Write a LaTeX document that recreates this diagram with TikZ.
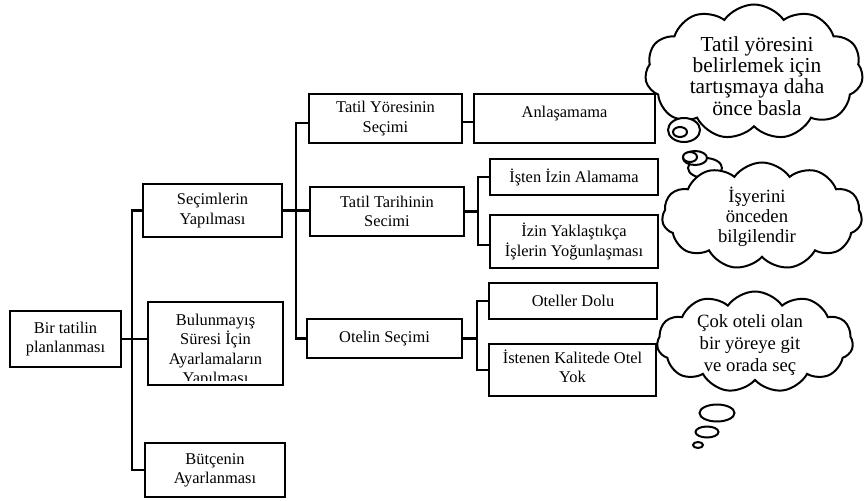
\documentclass[tikz,border=0pt]{standalone}
\usepackage{fontspec}
\setmainfont{Liberation Serif}
\usetikzlibrary{shapes.symbols,shapes.geometric,calc}
\begin{document}
\begin{tikzpicture}[x=0.75pt,y=-0.75pt,
  sz/.style 2 args={minimum width=#1*0.75pt,minimum height=#2*0.75pt},
  boxfont/.style={font=\fontsize{12.3}{14.4}\selectfont},
  box/.style={draw,line width=2.2pt,align=center,inner sep=1pt,boxfont},
  boxtext/.style={align=center,inner sep=0pt,boxfont},
  link/.style={line width=1.7pt},
  think/.style={cloud,draw,fill=white,line width=1.5pt,cloud puffs=11,cloud puff arc=110,inner sep=0pt},
  bubble/.style={ellipse,draw,fill=white,line width=1.5pt,inner sep=0pt}]
\useasboundingbox (0,0) rectangle (864,500);

% level 0 and level 1
\node[box,sz={111}{56}] (root) at (65.5,339) {Bir tatilin\\planlanması};
\node[box,sz={139}{53}] (sec) at (212.5,210.5) {Seçimlerin\\Yapılması};
\node[box,sz={135}{83}] (bul) at (215.5,343.5) {};
\node[box,sz={140}{54}] (but) at (215,470) {Bütçenin\\Ayarlanması};

% text of the tall box is cut off at its lower edge
\begin{scope}
  \clip ($(bul.south west)+(2,-6)$) rectangle ($(bul.north east)+(-2,2)$);
  \node[boxtext,anchor=north] (bult) at (215.5,314) {Bulunmayış\\Süresi İçin\\Ayarlamaların\\Yapılması};
\end{scope}

% level 2
\node[box,sz={153}{49}] (yor) at (385.5,118.5) {Tatil Yöresinin\\Seçimi};
\node[box,sz={154}{49}] (tar) at (387,211.5) {Tatil Tarihinin\\Secimi};
\node[box,sz={155}{39}] (ote) at (384.5,338.5) {Otelin Seçimi};

% level 3
\node[box,sz={181}{49}] (anl) at (564.5,118.5) {};
\node[boxtext] (anlt) at ($(anl.center)+(0,-5)$) {Anlaşamama};
\node[box,sz={168}{36}] (ist) at (574,177) {İşten İzin Alamama};
\node[box,sz={168}{53}] (yak) at (574,241.5) {İzin Yaklaştıkça\\İşlerin Yoğunlaşması};
\node[box,sz={168}{36}] (dol) at (573,301) {Oteller Dolu};
\node[box,sz={167}{52}] (kal) at (572.5,370) {};
\node[boxtext] (kalt) at ($(kal.center)+(0,-4)$) {İstenen Kalitede Otel\\Yok};

% connectors
\coordinate (trunkA) at (132,0);
\coordinate (trunkB) at (296,0);
\coordinate (trunkC) at (478,0);
\coordinate (trunkD) at (477,0);
\draw[link] (root.east) -- (root.east -| bul.west);
\draw[link] (sec.west) -| (trunkA |- but.west) -- (but.west);
\draw[link] (sec.east) -- (sec.east -| tar.west);
\draw[link] ($(yor.west)+(0,4.5)$) -| (trunkB |- ote.west) -- (ote.west);
\draw[link] ($(yor.east)+(0,3.5)$) -- ($(anl.west)+(0,3.5)$);
\draw[link] (tar.east) -- (tar.east -| trunkC);
\draw[link] (ist.west) -| ($(trunkC |- yak.west)+(0,3.5)$) -- ($(yak.west)+(0,3.5)$);
\draw[link] (ote.east) -- (ote.east -| trunkD);
\draw[link] (dol.west) -| (trunkD |- kal.west) -- (kal.west);

% thought clouds
\node[think,sz={218}{135}] (c1) at (754,72) {};
\node[align=center,inner sep=0pt,font=\fontsize{16}{16}\selectfont] (c1t) at (757,76)
  {Tatil yöresini\\belirlemek için\\tartışmaya daha\\önce basla};
\node[bubble,sz={32}{24}] (c1a) at (684,130) {};
\node[bubble,sz={14}{10}] (c1b) at (680,132) {};

\node[bubble,sz={34}{20}] (c2a) at (705,168) {};
\node[think,sz={200}{107}] (c2) at (762,216) {};
\node[bubble,sz={24}{14}] (c2b) at (695,158) {};
\node[bubble,sz={14}{10}] (c2c) at (690,157) {};
\node[align=center,inner sep=0pt,font=\fontsize{14}{15}\selectfont] (c2t) at (757,217)
  {İşyerini\\önceden\\bilgilendir};

\node[think,sz={196}{101}] (c3) at (755,342) {};
\node[align=center,inner sep=0pt,font=\fontsize{14}{16.5}\selectfont] (c3t) at (750,345)
  {Çok oteli olan\\bir yöreye git\\ve orada seç};
\node[bubble,sz={35}{17}] (c3a) at (717,413) {};
\node[bubble,sz={23}{11}] (c3b) at (707,432) {};
\node[bubble,sz={10}{6}] (c3c) at (698,445) {};
\end{tikzpicture}
\end{document}
